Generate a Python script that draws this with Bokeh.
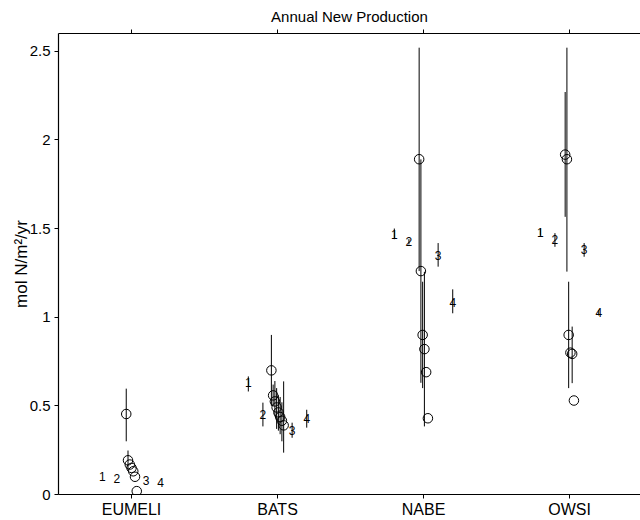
from bokeh.plotting import figure
from bokeh.models import Range1d, LinearAxis, FixedTicker, Title, ColumnDataSource, Grid
from bokeh.embed import file_html
from bokeh.resources import INLINE
from bokeh.core.properties import value

# ---------------- data ----------------
categories = ["EUMELI", "BATS", "NABE", "OWSI"]
cat_pos = [1, 2, 3, 4]
y_ticks = [0, 0.5, 1, 1.5, 2, 2.5]
y_tick_labels = ["0", "0.5", "1", "1.5", "2", "2.5"]

# observed estimates (circles) with their ranges
eumeli_obs = [0.454, 0.193, 0.169, 0.150, 0.131, 0.100, 0.019]
eumeli_lo = [0.300, 0.140, 0.169, 0.150, 0.131, 0.100, 0.019]
eumeli_hi = [0.597, 0.248, 0.169, 0.150, 0.131, 0.100, 0.019]

bats_obs = [0.700, 0.559, 0.525, 0.491, 0.463, 0.437, 0.416, 0.390]
bats_lo = [0.500, 0.500, 0.440, 0.370, 0.360, 0.340, 0.300, 0.236]
bats_hi = [0.900, 0.620, 0.640, 0.600, 0.560, 0.550, 0.520, 0.638]

nabe_obs = [1.891, 1.260, 0.900, 0.820, 0.690, 0.430]
nabe_lo = [1.260, 0.630, 0.600, 0.384, 0.690, 0.430]
nabe_hi = [2.520, 1.890, 1.200, 1.256, 0.690, 0.430]

owsi_obs = [1.917, 1.891, 0.900, 0.800, 0.793, 0.530]
owsi_lo = [1.566, 1.257, 0.600, 0.800, 0.628, 0.530]
owsi_hi = [2.270, 2.520, 1.200, 0.800, 0.947, 0.530]

# model results (numbered 1-4) per site
model_names = ["1", "2", "3", "4"]
eumeli_model = [0.100, 0.088, 0.079, 0.066]
eumeli_model_lo = [0.100, 0.088, 0.079, 0.066]
eumeli_model_hi = [0.100, 0.088, 0.079, 0.066]

bats_model = [0.629, 0.450, 0.360, 0.426]
bats_model_lo = [0.581, 0.384, 0.320, 0.377]
bats_model_hi = [0.666, 0.518, 0.405, 0.478]

nabe_model = [1.467, 1.425, 1.350, 1.082]
nabe_model_lo = [1.440, 1.410, 1.285, 1.022]
nabe_model_hi = [1.500, 1.440, 1.418, 1.157]

owsi_model = [1.480, 1.436, 1.379, 1.026]
owsi_model_lo = [1.460, 1.397, 1.341, 1.010]
owsi_model_hi = [1.500, 1.474, 1.418, 1.040]

# ---------------- layout rules ----------------
DODGE = 0.012                    # spacing of overlapping circles
MODEL_OFFSETS = [-0.2, -0.1, 0.1, 0.2]

obs_sets = [(eumeli_obs, eumeli_lo, eumeli_hi), (bats_obs, bats_lo, bats_hi),
            (nabe_obs, nabe_lo, nabe_hi), (owsi_obs, owsi_lo, owsi_hi)]
model_sets = [(eumeli_model, eumeli_model_lo, eumeli_model_hi),
              (bats_model, bats_model_lo, bats_model_hi),
              (nabe_model, nabe_model_lo, nabe_model_hi),
              (owsi_model, owsi_model_lo, owsi_model_hi)]

ox, oy, olo, ohi = [], [], [], []
for c, (vals, lo, hi) in zip(cat_pos, obs_sets):
    n = len(vals)
    for i, (v, l, h) in enumerate(zip(vals, lo, hi)):
        ox.append(c + DODGE * (i - (n - 1) / 2))
        oy.append(v)
        olo.append(l)
        ohi.append(h)

mx, my, mlo, mhi, mtxt = [], [], [], [], []
for c, (vals, lo, hi) in zip(cat_pos, model_sets):
    for k, (v, l, h) in enumerate(zip(vals, lo, hi)):
        mx.append(c + MODEL_OFFSETS[k])
        my.append(v)
        mlo.append(l)
        mhi.append(h)
        mtxt.append(model_names[k])

obs_src = ColumnDataSource(dict(x=ox, y=oy, lo=olo, hi=ohi))
mod_src = ColumnDataSource(dict(x=mx, y=my, lo=mlo, hi=mhi, t=mtxt))

FONT = "Liberation Sans"

p = figure(width=640, height=520,
           x_range=Range1d(0.5, 4.486), y_range=Range1d(0, 2.6),
           x_axis_location=None, y_axis_location=None,
           output_backend="svg", toolbar_location=None,
           min_border_left=58, min_border_right=0,
           min_border_top=33, min_border_bottom=25)
p.outline_line_color = None
p.background_fill_color = "white"
p.border_fill_color = "white"
for r in list(p.center):
    if isinstance(r, Grid):
        r.visible = False
p.xgrid.visible = False
p.ygrid.visible = False

p.title = Title(text="Annual New Production", align="center",
                text_font=FONT, text_font_size="15px",
                text_font_style="normal", text_color="black")

xb = LinearAxis(ticker=FixedTicker(ticks=cat_pos),
                major_label_overrides={c: n for c, n in zip(cat_pos, categories)})
xt = LinearAxis(ticker=FixedTicker(ticks=cat_pos),
                major_label_overrides={c: "" for c in cat_pos},
                major_label_text_font_size="4px", major_label_standoff=0)
yl = LinearAxis(ticker=FixedTicker(ticks=y_ticks),
                major_label_overrides={t: s for t, s in zip(y_ticks, y_tick_labels)},
                axis_label="mol N/m²/yr")
for ax in (xb, xt, yl):
    ax.axis_line_color = "black"
    ax.axis_line_width = 1.2
    ax.major_tick_line_color = "black"
    ax.major_tick_in = 0
    ax.major_tick_out = 4
    ax.minor_tick_line_color = None
    ax.major_label_text_font = FONT
    ax.major_label_text_color = "black"
xb.major_label_text_font_size = "16px"
xb.major_label_standoff = 2
yl.major_label_text_font_size = "15px"
yl.major_label_standoff = 4
yl.axis_label_text_font = FONT
yl.axis_label_text_font_size = "17px"
yl.axis_label_text_font_style = "normal"
yl.axis_label_text_color = "black"
yl.axis_label_standoff = -4
p.add_layout(xb, "below")
p.add_layout(xt, "above")
p.add_layout(yl, "left")

p.segment(x0="x", y0="lo", x1="x", y1="hi", source=obs_src,
          line_color="black", line_width=1)
p.segment(x0="x", y0="lo", x1="x", y1="hi", source=mod_src,
          line_color="black", line_width=1)
p.scatter(x="x", y="y", source=obs_src, marker="circle", size=9.5,
          fill_color=None, line_color="black", line_width=1)
p.text(x="x", y="y", text="t", source=mod_src, text_align="center",
       text_baseline="middle", text_font=value(FONT), text_font_size="12px",
       text_color="black")

open("out.html", "w").write(file_html(p, INLINE))
